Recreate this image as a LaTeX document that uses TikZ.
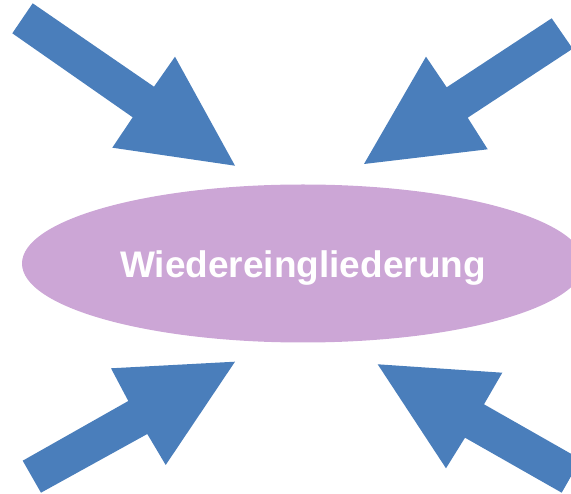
\documentclass[tikz,border=0pt]{standalone}
\usepackage{fontspec}
\setmainfont{Liberation Sans}
\usetikzlibrary{shapes.geometric}
\definecolor{arrowblue}{HTML}{4A7EBB}
\definecolor{lilac}{HTML}{CCA6D6}

\begin{document}
\begin{tikzpicture}[x=1pt,y=-1pt,
  blockarrow/.style={fill=arrowblue,draw=none},
  centre/.style={ellipse,fill=lilac,draw=none,inner sep=0pt,
    minimum width=562pt,minimum height=158pt},
  label/.style={inner sep=0pt,anchor=base,text=white,
    font=\bfseries\fontsize{37}{44}\selectfont}]

        \clip (0,0) rectangle (571,494);

        \node[centre] (W) at (303,263.5) {};
        \node[label] (T) at (303,277.3) {Wiedereingliederung};

        % top left
        \fill[blockarrow] (32.7,3.3) -- (154,86.7) -- (175,56.7) -- (235,165.7)
          -- (112.3,147.7) -- (132.7,117.3) -- (12.3,33.3) -- cycle;
        % top right
        \fill[blockarrow] (551.7,18.3) -- (446.7,87.3) -- (426,56.7) -- (364,164)
          -- (487.7,149.3) -- (467.7,117.7) -- (572.7,48.7) -- cycle;
        % bottom left
        \fill[blockarrow] (22.7,460.7) -- (128.3,401) -- (111,368.3) -- (235,361.7)
          -- (165.7,465) -- (147.3,434) -- (41,492.7) -- cycle;
        % bottom right
        \fill[blockarrow] (580.7,459.3) -- (484,404.3) -- (502.3,372.7) -- (377.7,364.3)
          -- (446,468.3) -- (465,437.7) -- (561.7,492.7) -- cycle;
      \end{tikzpicture}
\end{document}
